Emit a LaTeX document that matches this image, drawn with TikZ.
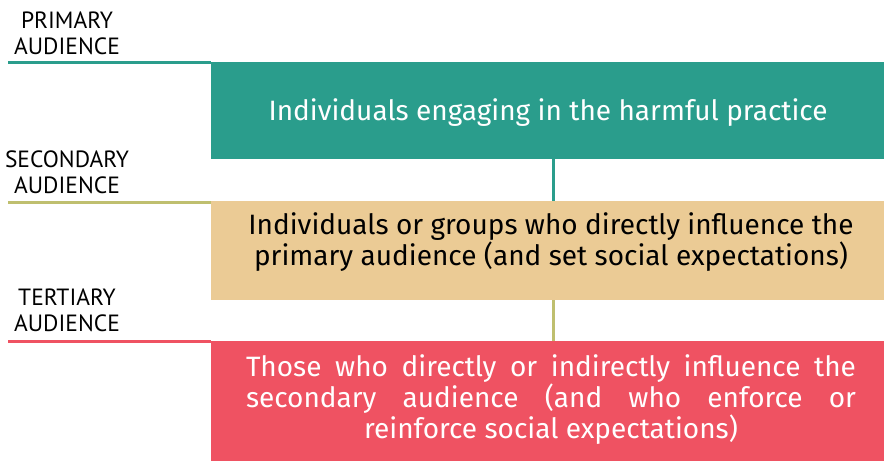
\documentclass[tikz,border=0pt]{standalone}
\usepackage{fontspec}
\setmainfont{PT Sans}
\newfontfamily\boxfont{Fira Sans}
\definecolor{teal1}{HTML}{2A9D8C}
\definecolor{tan1}{HTML}{EBCB95}
\definecolor{olive1}{HTML}{BFBF6F}
\definecolor{red1}{HTML}{EF5262}
\begin{document}
\begin{tikzpicture}[x=1pt,y=-1pt,
  box/.style={anchor=north west,inner sep=0pt,minimum width=673pt,text=white},
  lbl/.style={align=center,inner sep=0pt,font=\fontsize{23.5}{26}\selectfont,anchor=base},
  btxt/.style={anchor=base,inner sep=0pt,align=center},
  rule/.style={line width=3pt},
  conn/.style={line width=3pt}]
\useasboundingbox (0,0) rectangle (884,461);
% boxes
\node[box,fill=teal1,minimum height=97pt] (b1) at (211,62) {};
\node[box,fill=tan1,minimum height=99pt] (b2) at (211,201) {};
\node[box,fill=red1,minimum height=120pt] (b3) at (211,341) {};
% box texts
\node[btxt,text=white,font=\boxfont\fontsize{28}{30}\selectfont] (t1) at (548,120) {Individuals engaging in the harmful practice};
\node[btxt,text=black,font=\boxfont\fontsize{28}{27}\selectfont] (t2) at (551,265) {Individuals or groups who directly influence the\\primary audience (and set social expectations)};
\node[btxt,text=white,font=\boxfont\fontsize{28}{28}\selectfont] (t3) at (551,438) {\makebox[610pt][s]{Those who directly or indirectly influence the}\\\makebox[610pt][s]{secondary audience (and who enforce or}\\reinforce social expectations)};
% labels
\node[lbl] (l1) at (67,54) {PRIMARY\\AUDIENCE};
\node[lbl] (l2) at (67,193) {SECONDARY\\AUDIENCE};
\node[lbl] (l3) at (67,331) {TERTIARY\\AUDIENCE};
% rules
\coordinate (r1) at (8,62);
\coordinate (r2) at (8,202);
\coordinate (r3) at (8,341);
\draw[rule,teal1] (r1) -- (b1.north west);
\draw[rule,olive1] (r2) -- (r2 -| b2.west);
\draw[rule,red1] (r3) -- (b3.north west);
% connectors
\draw[conn,teal1] ([xshift=5.5pt]b1.south) -- ([xshift=5.5pt]b2.north);
\draw[conn,olive1] ([xshift=5.5pt]b2.south) -- ([xshift=5.5pt]b3.north);
\end{tikzpicture}
\end{document}
